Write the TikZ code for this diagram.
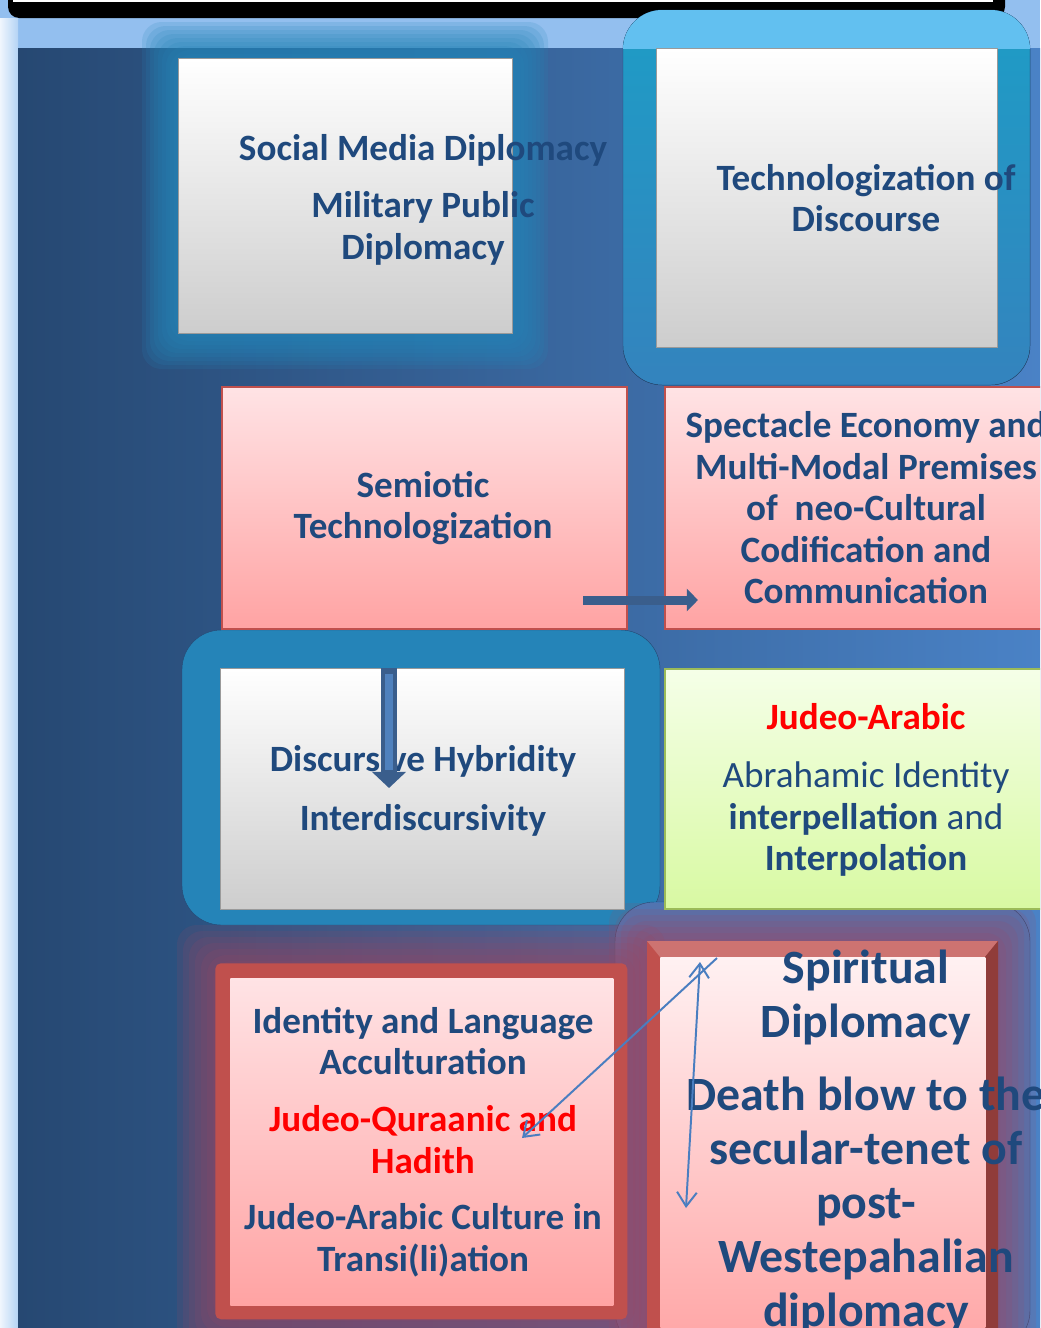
\documentclass[tikz,border=0pt]{standalone}
\usepackage{fontspec}
\setmainfont{Carlito}
\usetikzlibrary{arrows.meta}
\definecolor{txtblue}{HTML}{1F497D}
\definecolor{txtred}{HTML}{FF0000}
\definecolor{bandblue}{HTML}{93BFEF}
\definecolor{stripblue}{HTML}{B4D3F5}
\definecolor{bgleft}{HTML}{264872}
\definecolor{bgmid}{HTML}{2F5A93}
\definecolor{bgright}{HTML}{4A82C6}
\definecolor{glowteal}{HTML}{2584B8}
\definecolor{glowcyan}{HTML}{62C0F0}
\definecolor{glowred}{HTML}{A04560}
\definecolor{boxline}{HTML}{9A9A9A}
\definecolor{boxgray}{HTML}{CDCDCD}
\definecolor{framered}{HTML}{C0504D}
\definecolor{pinktop}{HTML}{FFE3E5}
\definecolor{pinkbot}{HTML}{FFA3A3}
\definecolor{greenline}{HTML}{9BBB59}
\definecolor{greentop}{HTML}{F5FFE8}
\definecolor{greenbot}{HTML}{D8F9A2}
\definecolor{arrowdark}{HTML}{3A5E8C}
\definecolor{arrowlight}{HTML}{4F81BD}
\definecolor{thinblue}{HTML}{4A7EC0}
\newcommand\pxl{0.025cm}
\begin{document}
\begin{tikzpicture}[x=0.025cm, y=-0.025cm,
  box/.style={draw=boxline, line width=1pt, top color=white, bottom color=boxgray, anchor=north west, inner sep=0pt},
  pinkbox/.style={draw=framered, line width=1.5pt, top color=pinktop, bottom color=pinkbot, anchor=north west, inner sep=0pt},
  greenbox/.style={draw=greenline, line width=1.5pt, top color=greentop, bottom color=greenbot, anchor=north west, inner sep=0pt},
  frame/.style={fill=framered, anchor=north west, inner sep=0pt},
  label/.style={text=txtblue, align=center, font=\bfseries\fontsize{26.4}{29.5}\selectfont},
  biglabel/.style={text=txtblue, align=center, font=\bfseries\fontsize{34}{38.5}\selectfont},
  thin/.style={thinblue, line width=1.4pt}]
\useasboundingbox (0,0) rectangle (1040,1328);
\clip (0,0) rectangle (1040,1328);

% background
\fill[bandblue] (0,0) rectangle (1040,48);
\fill[black, rounded corners=8pt] (8,-20) rectangle (1005,18);
\fill[white] (13,-5) rectangle (993,2);
\shade[left color=white!80!stripblue, right color=stripblue] (0,18) rectangle (18,1328);
\shade[left color=bgleft, middle color=bgmid, right color=bgright] (18,48) rectangle (1040,1328);

% glows
\foreach \d in {36,32,...,0}
  \fill[glowteal, opacity=0.17, rounded corners=14pt] (178-\d,58-\d) rectangle (512+\d,333+\d);
\fill[top color=glowteal!80!cyan, bottom color=glowteal!60!bgright, rounded corners=28pt, draw=bgleft, line width=0.3pt]
  (623,10) rectangle (1030,385);
\begin{scope}
\clip (600,0) rectangle (1040,48);
\fill[glowcyan, rounded corners=28pt] (623,10) rectangle (1030,385);
\end{scope}
\fill[glowteal, rounded corners=28pt, draw=bgleft, line width=0.3pt] (182,630) rectangle (660,925);
\fill[bgright!85!bgmid, rounded corners=28pt, draw=bgleft, line width=0.3pt] (615,902) rectangle (1030,1350);
\foreach \d in {38,32,...,2} {
  \fill[glowred, opacity=0.14, rounded corners=14pt] (215-\d,963-\d) rectangle (627+\d,1319+\d);
  \fill[glowred, opacity=0.14, rounded corners=14pt] (647-\d,941-\d) rectangle (998+\d,1360);
}

% boxes
\node[box, minimum width=334*\pxl, minimum height=275*\pxl] (socialbox) at (178,58) {};
\node[box, minimum width=341*\pxl, minimum height=299*\pxl] (techbox) at (656,48) {};
\node[pinkbox, minimum width=405*\pxl, minimum height=242*\pxl] (semioticbox) at (221,386) {};
\node[pinkbox, minimum width=400*\pxl, minimum height=242*\pxl] (spectaclebox) at (664,386) {};
\node[box, minimum width=404*\pxl, minimum height=241*\pxl] (hybridbox) at (220,668) {};
\node[greenbox, minimum width=400*\pxl, minimum height=240*\pxl] (judeobox) at (664,668) {};
\node[frame, rounded corners=4pt, minimum width=412*\pxl, minimum height=356*\pxl] (identityframe) at (215,963) {};
\node[anchor=north west, inner sep=0pt, top color=pinktop, bottom color=pinkbot, minimum width=383*\pxl, minimum height=327*\pxl] (identitybox) at (230,978) {};
\node[frame, minimum width=351*\pxl, minimum height=420*\pxl] (spiritframe) at (647,941) {};
\fill[framered!80!white] (647,941) -- (998,941) -- (985,957) -- (660,957) -- cycle;
\fill[framered!75!black] (998,941) -- (998,1340) -- (985,1340) -- (985,957) -- cycle;
\node[anchor=north west, inner sep=0pt, top color=pinktop!50!white, bottom color=pinkbot, minimum width=325*\pxl, minimum height=400*\pxl] (spiritbox) at (660,957) {};

% texts
\node[label] (socialtext) at (423,200) {Social Media Diplomacy\\[11pt] Military Public\\ Diplomacy};
\node[label] (techtext) at (866,198) {Technologization of\\ Discourse};
\node[label] (semiotictext) at (423,508) {Semiotic\\ Technologization};
\node[label] (spectacletext) at (866,508) {Spectacle Economy and\\ Multi-Modal Premises\\ of~ neo-Cultural\\ Codification and\\ Communication};
\node[label] (hybridtext) at (423,791) {Discursive Hybridity\\[12pt] Interdiscursivity};
\node[label, font=\fontsize{26.4}{29.5}\selectfont] (judeotext) at (866,790) {\textbf{\textcolor{txtred}{Judeo-Arabic}}\\[12pt] Abrahamic Identity\\ \textbf{interpellation} and\\ \textbf{Interpolation}};
\node[label] (identitytext) at (423,1142) {Identity and Language\\ Acculturation\\[11pt]
  \textcolor{txtred}{Judeo-Quraanic and}\\ \textcolor{txtred}{Hadith}\\[11pt] Judeo-Arabic Culture in\\ Transi(li)ation};
\node[biglabel] (spirittext) at (866,1142) {Spiritual\\ Diplomacy\\[13pt] Death blow to the\\ secular-tenet of\\ post-\\ Westepahalian\\ diplomacy};

% arrows
\coordinate (rtStart) at (583,600);
\coordinate (rtEnd) at (698,600);
\coordinate (dnStart) at (389,668);
\coordinate (dnEnd) at (389,788);
\coordinate (diagStart) at (717,958);
\coordinate (diagEnd) at (522,1138);
\coordinate (vertTop) at (700,962);
\coordinate (vertBot) at (686,1208);
\draw[arrowdark, line width=6.4pt, -{Triangle[length=8pt,width=15.6pt]}] (rtStart) -- (rtEnd);
\draw[arrowdark, line width=11.4pt, -{Triangle[length=11.4pt,width=23.5pt]}] (dnStart) -- (dnEnd);
\draw[arrowlight, line width=5pt, shorten <=4pt, shorten >=13pt] (dnStart) -- (dnEnd);
\draw[thin, -{Straight Barb[length=10pt,width=14pt]}] (diagStart) -- (diagEnd);
\draw[thin, {Straight Barb[length=10pt,width=14pt]}-{Straight Barb[length=10pt,width=14pt]}] (vertTop) -- (vertBot);
\end{tikzpicture}
\end{document}
